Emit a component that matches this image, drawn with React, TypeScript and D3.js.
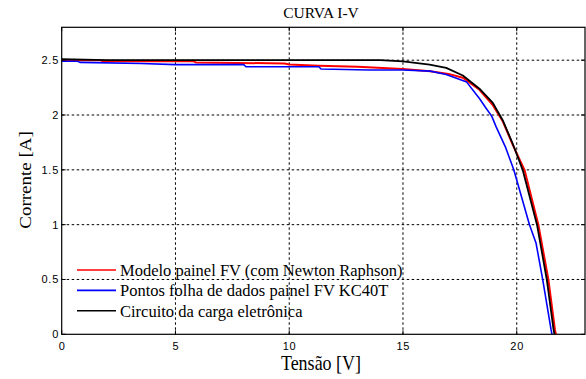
import React from "react";
import * as d3 from "d3";

// I-V curve of the KC40T photovoltaic panel: model, datasheet points and electronic load
const modelV = [0, 1.7, 1.8, 5.8, 5.9, 9.8, 10, 11.3, 13, 15, 16.2, 17, 17.63, 18.36, 18.95, 19.39, 19.82, 20.34, 20.95, 21.39, 21.68, 21.72];
const modelI = [2.5, 2.5, 2.49, 2.49, 2.48, 2.47, 2.46, 2.45, 2.44, 2.42, 2.4, 2.375, 2.34, 2.23, 2.09, 1.94, 1.73, 1.5, 1.0, 0.5, 0.04, 0];

const sheetV = [0, 0.7, 0.8, 3.5, 5, 8, 8.1, 11.3, 11.4, 13.5, 15, 16.2, 16.9, 17.8, 18.36, 18.66, 18.9, 19.1, 19.5, 19.87, 20.56, 20.85, 21.14, 21.51, 21.55];
const sheetI = [2.49, 2.49, 2.48, 2.47, 2.46, 2.46, 2.44, 2.44, 2.42, 2.41, 2.41, 2.4, 2.37, 2.3, 2.15, 2.06, 1.99, 1.89, 1.71, 1.5, 1.0, 0.83, 0.5, 0.04, 0];

const loadV = [0, 2, 14, 15, 16.17, 16.9, 17.63, 18.36, 18.95, 19.39, 19.82, 20.26, 20.89, 21.32, 21.62, 21.66];
const loadI = [2.51, 2.5, 2.5, 2.49, 2.46, 2.43, 2.36, 2.24, 2.11, 1.95, 1.74, 1.5, 1.0, 0.5, 0.04, 0];

const xTicks = [0, 5, 10, 15, 20];
const yTicks = [0, 0.5, 1, 1.5, 2, 2.5];

const seriesNames = [
  "Modelo painel FV (com Newton Raphson)",
  "Pontos folha de dados painel FV KC40T",
  "Circuito da carga eletrônica",
];
const seriesColors = ["#ff0000", "#0000ff", "#000000"];

const W = 586;
const H = 379;
const left = 61.7;
const right = 585;
const top = 27.3;
const bottom = 334.3;

export default function App() {
  const x = d3.scaleLinear().domain([0, 23]).range([left, right]);
  const y = d3.scaleLinear().domain([0, 2.8]).range([bottom, top]);

  const line = d3
    .line<[number, number]>()
    .x((d) => x(d[0]))
    .y((d) => y(d[1]));

  const series = [
    { v: modelV, i: modelI, w: 2 },
    { v: sheetV, i: sheetI, w: 1.6 },
    { v: loadV, i: loadI, w: 1.8 },
  ];

  const serif = "'Liberation Serif', 'Times New Roman', serif";
  const sans = "'Liberation Sans', Arial, sans-serif";

  return (
    <svg
      width={W}
      height={H}
      style={{ position: "absolute", left: 0, top: 0, background: "#fff" }}
    >
      <rect x={0} y={0} width={W} height={H} fill="#fff" />
      <defs>
        <clipPath id="plotClip">
          <rect x={left} y={top} width={right - left} height={bottom - top} />
        </clipPath>
      </defs>
      {/* grid */}
      {xTicks
        .filter((t) => t > 0)
        .map((t) => (
          <line
            key={"gx" + t}
            x1={x(t)}
            x2={x(t)}
            y1={top}
            y2={bottom}
            stroke="#000"
            strokeWidth={1}
            strokeDasharray="2.5,2.5"
          />
        ))}
      {yTicks
        .filter((t) => t > 0)
        .map((t) => (
          <line
            key={"gy" + t}
            x1={left}
            x2={right}
            y1={y(t)}
            y2={y(t)}
            stroke="#000"
            strokeWidth={1}
            strokeDasharray="2.5,2.5"
          />
        ))}
      {/* curves */}
      <g clipPath="url(#plotClip)">
        {series.map((s, k) => (
          <path
            key={k}
            d={line(s.v.map((v, j) => [v, s.i[j]] as [number, number])) || ""}
            fill="none"
            stroke={seriesColors[k]}
            strokeWidth={s.w}
            strokeLinejoin="round"
          />
        ))}
      </g>
      {/* frame */}
      <rect
        x={left}
        y={top}
        width={right - left}
        height={bottom - top}
        fill="none"
        stroke="#000"
        strokeWidth={1.2}
      />
      {/* ticks */}
      {xTicks.map((t) => (
        <g key={"tx" + t}>
          <line x1={x(t)} x2={x(t)} y1={bottom} y2={bottom - 4} stroke="#000" />
          <line x1={x(t)} x2={x(t)} y1={top} y2={top + 4} stroke="#000" />
          <text
            x={x(t) + 0.4}
            y={bottom + 15.5}
            textAnchor="middle"
            fontFamily={sans}
            fontSize={11}
            letterSpacing={0.8}
          >
            {t}
          </text>
        </g>
      ))}
      {yTicks.map((t) => (
        <g key={"ty" + t}>
          <line x1={left} x2={left + 4} y1={y(t)} y2={y(t)} stroke="#000" />
          <line x1={right} x2={right - 4} y1={y(t)} y2={y(t)} stroke="#000" />
          <text
            x={left - 2.6}
            y={y(t) + 3.9}
            textAnchor="end"
            fontFamily={sans}
            fontSize={11}
            letterSpacing={0.8}
          >
            {t}
          </text>
        </g>
      ))}
      {/* title and axis labels */}
      <text
        x={321}
        y={17.5}
        textAnchor="middle"
        fontFamily={serif}
        fontSize={15.5}
      >
        CURVA I-V
      </text>
      <text
        transform="translate(321,370) scale(1,1.12)"
        textAnchor="middle"
        fontFamily={serif}
        fontSize={18}
      >
        Tensão [V]
      </text>
      <text
        transform="translate(30.5,180) rotate(-90) scale(1.15,1)"
        textAnchor="middle"
        fontFamily={serif}
        fontSize={16.5}
      >
        Corrente [A]
      </text>
      {/* legend */}
      {seriesNames.map((name, k) => {
        const ly = 270 + k * 20.4;
        return (
          <g key={"lg" + k}>
            <line
              x1={77}
              x2={116}
              y1={ly}
              y2={ly}
              stroke={seriesColors[k]}
              strokeWidth={1.6}
            />
            <text x={120} y={ly + 6} fontFamily={serif} fontSize={16.5}>
              {name}
            </text>
          </g>
        );
      })}
    </svg>
  );
}
